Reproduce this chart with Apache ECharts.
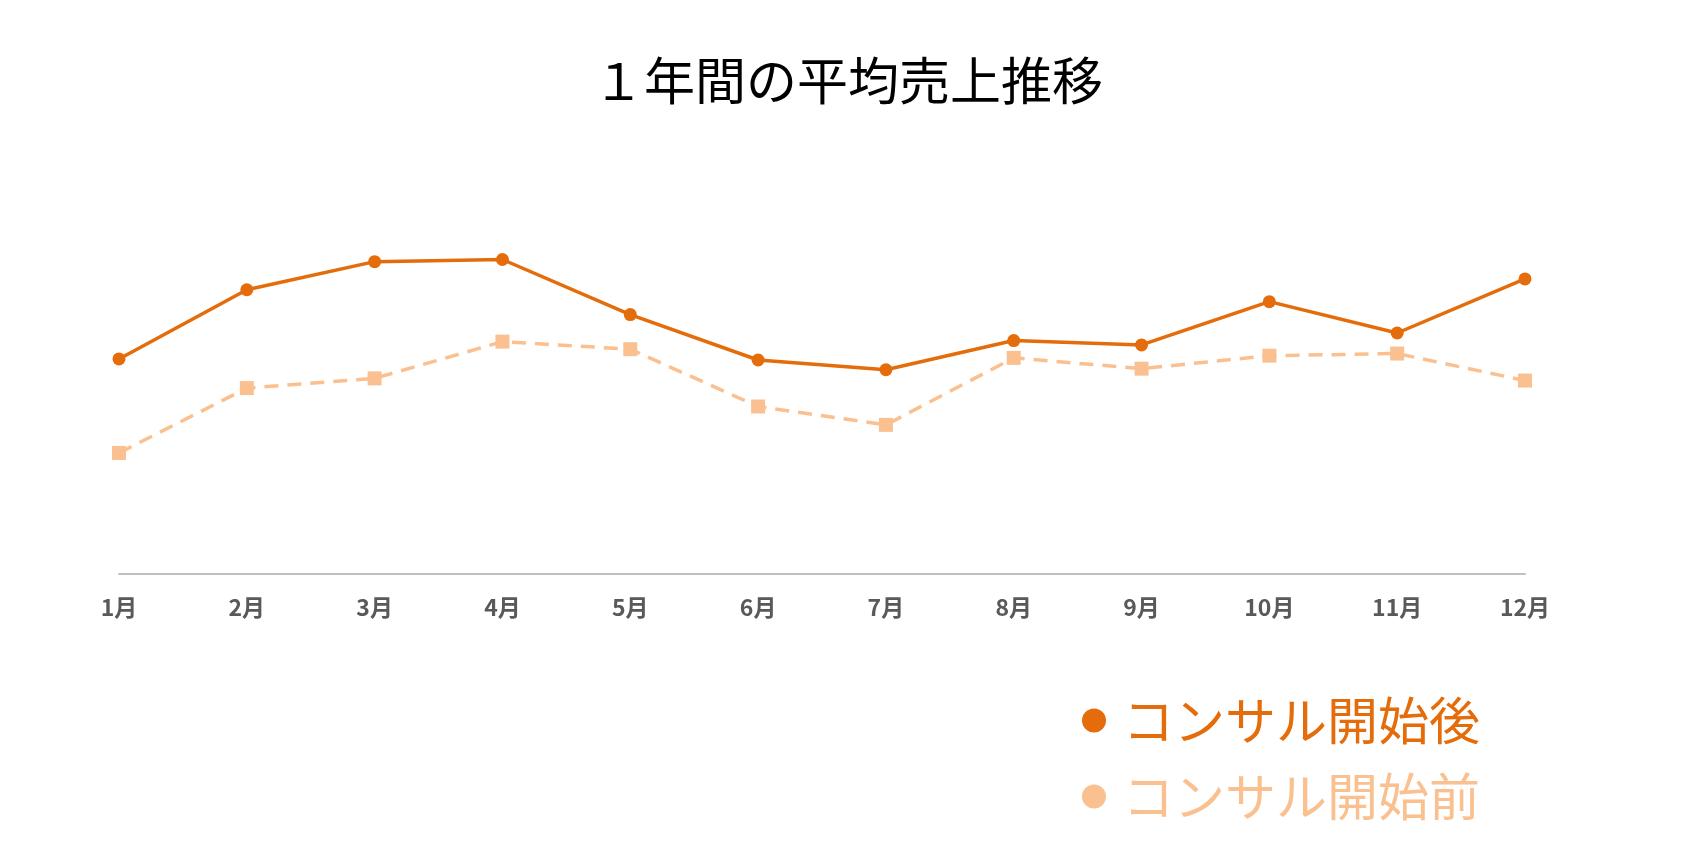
<!DOCTYPE html>
<html><head><meta charset="utf-8">
<script src="https://cdn.jsdelivr.net/npm/echarts@6/dist/echarts.min.js"></script>
<style>html,body{margin:0;padding:0;background:#fff}#c{width:1696px;height:865px}</style>
</head><body><div id="c"></div>
<script>
const titleText = '１年間の平均売上推移';
const months = ['1月','2月','3月','4月','5月','6月','7月','8月','9月','10月','11月','12月'];
const seriesAfterName = 'コンサル開始後';
const seriesBeforeName = 'コンサル開始前';
const afterValues = [199, 263, 289, 291, 240, 198, 189, 216, 212, 252, 223, 273];
const beforeValues = [112, 172, 181, 215, 208, 155, 138, 200, 190, 202, 204, 179];

const cAfter = '#E46C0A';
const cBefore = '#FAC090';
const font = '"Noto Sans CJK JP", "Noto Sans", sans-serif';

const chart = echarts.init(document.getElementById('c'));
chart.setOption({
  animation: false,
  backgroundColor: '#fff',
  title: {
    text: titleText, left: 'center', top: 55, padding: [0, 0, 0, 14],
    textStyle: { fontFamily: font, fontSize: 51, fontWeight: 'normal', color: '#000' }
  },
  legend: {
    orient: 'vertical', left: 1077, top: 690, itemGap: 25,
    icon: 'circle', itemWidth: 48, itemHeight: 24,
    textStyle: { fontFamily: font, fontSize: 51, lineHeight: 51 },
    data: [
      { name: seriesAfterName, textStyle: { color: cAfter } },
      { name: seriesBeforeName, textStyle: { color: cBefore } }
    ]
  },
  grid: { left: 119, right: 171, top: 141.7, bottom: 291, containLabel: false },
  xAxis: {
    type: 'category', data: months, boundaryGap: false,
    axisLine: { lineStyle: { color: '#BFBFBF', width: 2 } },
    axisTick: { show: false },
    axisLabel: { color: '#595959', fontFamily: font, fontSize: 23, fontWeight: 'bold', margin: 22 }
  },
  yAxis: { type: 'value', min: 0, max: 400, show: false, splitLine: { show: false } },
  series: [
    {
      name: seriesAfterName, type: 'line', data: afterValues,
      symbol: 'circle', symbolSize: 13,
      lineStyle: { color: cAfter, width: 3.5 }, itemStyle: { color: cAfter }
    },
    {
      name: seriesBeforeName, type: 'line', data: beforeValues,
      symbol: 'rect', symbolSize: 14,
      lineStyle: { color: cBefore, width: 3.5, type: [14, 9] }, itemStyle: { color: cBefore }
    }
  ]
});
</script></body></html>
